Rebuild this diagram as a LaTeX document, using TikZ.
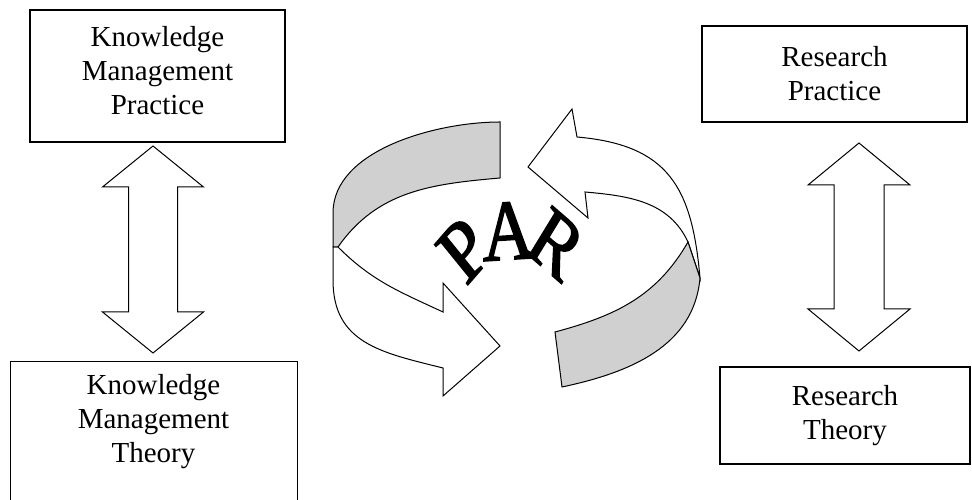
\documentclass[tikz,border=0pt]{standalone}
\usepackage{fontspec}
\setmainfont{Liberation Serif}
\newfontfamily\parfont{Liberation Serif}[FakeBold=2]
\usepackage{xcolor}
\usepackage{tikz}
\usetikzlibrary{
  positioning,
  calc
}
\definecolor{RibbonGray}{RGB}{208, 208, 208}
\tikzset{
    textbox/.style={draw=black, line width=1.3pt, rectangle, inner sep=0pt, align=center,
        font=\fontsize{29}{34}\selectfont},
    boxtext/.style={inner sep=0pt, align=center, font=\fontsize{29}{34}\selectfont},
    blockarrow/.style={draw=black, line width=1pt, fill=white, line join=miter},
    ribbon/.style={draw=black, line width=1pt, fill=white, line join=miter},
    ribbonback/.style={ribbon, fill=RibbonGray},
    parletter/.style={inner sep=0pt, xscale=0.84, font=\parfont\fontsize{86}{86}\selectfont}
}

\begin{document}
\begin{tikzpicture}[x=1pt, y=1pt]
    \clip (0,0) rectangle (972,500);

    % boxes
    \node[textbox, minimum width=255pt, minimum height=132pt] (kmp) at (157.5,424) {};
    \node[boxtext] (kmplabel) at (157.5,429) {Knowledge\\Management\\Practice};
    \node[textbox, minimum width=287pt, minimum height=170pt, anchor=north west] (kmt) at (10,139) {};
    \node[boxtext] (kmtlabel) at (153.5,78) {Knowledge\\Management\\Theory};
    \node[textbox, minimum width=265pt, minimum height=96pt] (rp) at (834.5,426) {Research\\Practice};
    \node[textbox, minimum width=250pt, minimum height=97pt] (rt) at (845,84.5) {Research\\Theory};

    % double arrows
    \draw[blockarrow, shift={(153,250.5)}] (0,103.5) -- (50.5,62.5) -- (24.5,62.5) -- (24.5,-62.5) -- (50.5,-62.5)
        -- (0,-103.5) -- (-50.5,-62.5) -- (-24.5,-62.5) -- (-24.5,62.5) -- (-50.5,62.5) -- cycle;
    \draw[blockarrow, shift={(859,253)}] (0,104) -- (51,62) -- (25,62) -- (25,-62) -- (51,-62)
        -- (0,-104) -- (-51,-62) -- (-25,-62) -- (-25,62) -- (-51,62) -- cycle;

    % PAR cycle
    \draw[ribbon] (700,222) to[out=95, in=-5, looseness=1.25] (577,363) -- (572,391) -- (528,333) -- (588,282)
        -- (585,308) to[out=-5, in=115] (688,258) -- cycle;
    \draw[ribbonback] (688,258) to[out=-120, in=15] (555,168) -- (562,113) to[out=12, in=-95] (700,222) -- cycle;
    \draw[ribbon] (338,253) to[out=-45, in=155] (443,188) -- (443,217) -- (500,154) -- (443,104)
        -- (443,132) to[out=166, in=-90, looseness=1.15] (333,220) -- (333,253) -- cycle;
    \draw[ribbonback] (500,378) to[out=180, in=90, looseness=0.85] (333,287) -- (333,253) -- (338,253)
        to[out=55, in=185] (500,322) -- cycle;

    \node[parletter, rotate=44] (parP) at (464,250) {P};
    \node[parletter, rotate=3] (parA) at (508,269) {A};
    \node[parletter, rotate=-36] (parR) at (556,256) {R};
\end{tikzpicture}
\end{document}
